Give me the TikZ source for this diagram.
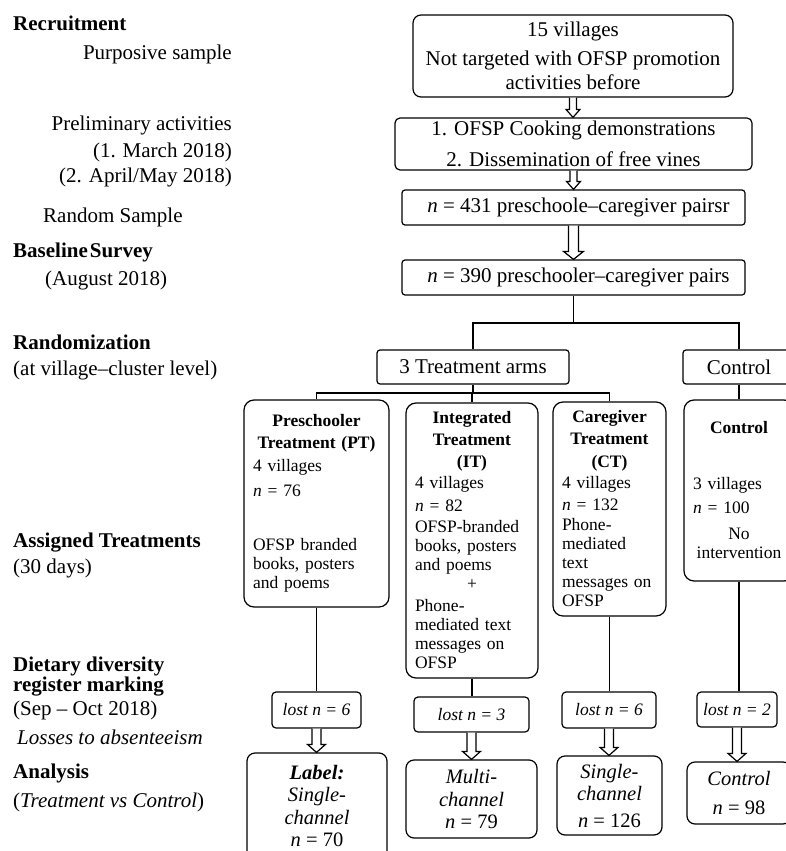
\documentclass[tikz,border=0pt]{standalone}
\usepackage{fontspec}
\setmainfont{Liberation Serif}
\usetikzlibrary{calc}
\setlength{\parskip}{0pt}
\newcommand\bigfont{\fontsize{21}{25}\selectfont}
\newcommand\boxfont{\fontsize{17.5}{19}\selectfont}
\newcommand\groupfont{\fontsize{20.5}{22.5}\selectfont}
% hollow block arrow from #2 down to #3, #1 = half width of the shaft
\newcommand\blockarrow[3][4.5]{%
  \draw[hollow] let \p1=(#2), \p2=(#3) in
    (\x1-#1pt,\y1) -- (\x1-#1pt,\y2+8pt) -- (\x1-2*#1pt,\y2+8pt) -- (\x1,\y2)
    -- (\x1+2*#1pt,\y2+8pt) -- (\x1+#1pt,\y2+8pt) -- (\x1+#1pt,\y1);}

\begin{document}
\begin{tikzpicture}[x=1pt, y=-1pt,
    line/.style={line width=1.3pt},
    hollow/.style={line width=1.2pt, fill=white, line join=miter},
    flowbox/.style={draw, line width=1.2pt, rounded corners=3pt, inner sep=0pt,
                    align=center, font=\bigfont},
    armbox/.style={draw, line width=1.2pt, rounded corners=10pt, inner xsep=9pt,
                   inner ysep=0pt, align=left, font=\boxfont},
    lostbox/.style={draw, line width=1.2pt, rounded corners=4pt, inner sep=0pt,
                    font=\boxfont\itshape},
    endbox/.style={draw, line width=1.2pt, rounded corners=8pt, inner sep=0pt,
                   align=center, font=\groupfont\itshape},
    lbl/.style={inner sep=0pt, font=\bigfont, anchor=west},
    bold/.style={font=\bigfont\bfseries}
  ]
  \useasboundingbox (0,0) rectangle (786,851);
  \clip (0,0) rectangle (786,851);

  % stage labels
  \node[lbl, bold] (recruit) at (13,23) {Recruitment};
  \node[lbl, anchor=east] (purposive) at (232,54) {Purposive sample};
  \node[lbl, anchor=east] (prelim) at (232,125) {Preliminary activities};
  \node[lbl, anchor=east] (march) at (232,152) {(1. March 2018)};
  \node[lbl, anchor=east] (april) at (232,177) {(2. April/May 2018)};
  \node[lbl] (random) at (43,217) {Random Sample};
  \node[lbl, bold] (baseline) at (13,252) {Baseline\hspace{2pt}Survey};
  \node[lbl] (august) at (45,280) {(August 2018)};
  \node[lbl, bold] (randomiz) at (13,342) {Randomization};
  \node[lbl] (cluster) at (13,370) {(at village--cluster level)};
  \node[lbl, bold] (assigned) at (13,543) {Assigned Treatments};
  \node[lbl] (days) at (13,568) {(30 days)};
  \node[lbl, bold, align=left] (dietary) at (13,677) {Dietary diversity\\[-5pt]register marking};
  \node[lbl] (sepoct) at (13,710) {(Sep -- Oct 2018)};
  \node[lbl, font=\bigfont\itshape] (losses) at (17,737) {Losses to absenteeism};
  \node[lbl, bold] (analysis) at (13,773) {Analysis};
  \node[lbl] (tvc) at (13,802) {(\textit{Treatment vs Control})};

  % main flow
  \node[flowbox, rounded corners=8pt, minimum width=320pt, minimum height=82pt] (villages) at (573,56)
    {15 villages\\[4pt]Not targeted with OFSP promotion\\[-1pt]activities before};
  \node[flowbox, rounded corners=5pt, minimum width=357pt, minimum height=52pt] (prelimbox) at (573.5,144)
    {1. OFSP Cooking demonstrations\\[6pt]2. Dissemination of free vines};
  \node[flowbox, minimum width=343pt, minimum height=35pt] (pairs431) at (573.5,207.5)
    {\hspace*{10pt}\textit{n} = 431 preschoole--caregiver pairsr};
  \node[flowbox, minimum width=343pt, minimum height=35pt] (pairs390) at (573.5,277.5)
    {\hspace*{10pt}\textit{n} = 390 preschooler--caregiver pairs};
  \node[flowbox, minimum width=192pt, minimum height=34pt] (arms) at (473,367) {3 Treatment arms};
  \node[flowbox, minimum width=112pt, minimum height=34pt] (ctrlhead) at (739,367) {Control};

  % treatment arms
  \node[armbox, text width=127pt, minimum height=207pt] (pt) at (316.5,503.5)
    {{\centering\bfseries Preschooler\\[3pt]Treatment (PT)\par}\vspace{4pt}
     4 villages\\[6pt]\textit{n} = 76\\[35pt]OFSP branded\\books, posters\\and poems};
  \node[armbox, text width=114pt, minimum height=275pt] (it) at (472,540.5)
    {{\centering\bfseries Integrated\\[3pt]Treatment\\[3pt](IT)\par}\vspace{2pt}
     4 villages\\[4pt]\textit{n} = 82\\[2pt]OFSP-branded\\books, posters\\and poems\\
     \makebox[\linewidth]{+}\\[3pt]Phone-\\mediated text\\messages on\\OFSP};
  \node[armbox, text width=95pt, minimum height=214pt] (ct) at (609.5,509)
    {{\centering\bfseries Caregiver\\[3pt]Treatment\\[4pt](CT)\par}\vspace{2pt}
     4 villages\\[3pt]\textit{n} = 132\\[1pt]Phone-\\mediated\\text\\messages on\\OFSP};
  \node[armbox, text width=92pt, minimum height=181pt] (ctrl) at (739,490.5)
    {{\centering\bfseries Control\par}\vspace{37pt}
     3 villages\\[5pt]\textit{n} = 100\par\vspace{7pt}
     {\centering No\\intervention\par}};

  % losses
  \node[lostbox, minimum width=89pt, minimum height=36pt] (lostpt) at (316.5,710) {lost n = 6};
  \node[lostbox, minimum width=115pt, minimum height=35pt] (lostit) at (471.5,714.5) {lost n = 3};
  \node[lostbox, minimum width=94pt, minimum height=36pt] (lostct) at (609,710) {lost n = 6};
  \node[lostbox, minimum width=80pt, minimum height=35pt] (lostctrl) at (737,709.5) {lost n = 2};

  % analysis groups
  \node[endbox, minimum width=140pt, minimum height=106pt] (endpt) at (317,806)
    {\textbf{Label:}\\Single-\\channel\\\textit{n} \textup{= 70}};
  \node[endbox, minimum width=131pt, minimum height=78pt] (endit) at (471.5,799)
    {Multi-\\channel\\\textit{n} \textup{= 79}};
  \node[endbox, minimum width=105pt, minimum height=79pt] (endct) at (609.5,795.5)
    {Single-\\channel\\[4pt]\textit{n} \textup{= 126}};
  \node[endbox, minimum width=104pt, minimum height=62pt] (endctrl) at (739,793)
    {Control\\[7pt]\textit{n} \textup{= 98}};

  % connectors
  \blockarrow[3.5]{villages.south}{prelimbox.north}
  \blockarrow[3.5]{prelimbox.south}{pairs431.north}
  \blockarrow[5]{pairs431.south}{pairs390.north}
  \coordinate (split1) at (573.5,323);
  \coordinate (split2) at (473,393);
  \draw[line] (pairs390.south) -- (split1);
  \draw[line] (arms.north) |- (split1) -| (ctrlhead.north);
  \draw[line] (arms.south) -- (split2);
  \draw[line] (pt.north) |- (split2) -| (ct.north);
  \draw[line] (it.north) -- (it.north |- split2);
  \draw[line] (ctrlhead.south) -- (ctrl.north);
  \draw[line] (pt.south) -- (pt.south |- lostpt.north);
  \draw[line] (it.south) -- (it.south |- lostit.north);
  \draw[line] (ct.south) -- (ct.south |- lostct.north);
  \draw[line] (ctrl.south) -- (ctrl.south |- lostctrl.north);
  \blockarrow{lostpt.south}{endpt.north}
  \blockarrow{lostit.south}{endit.north}
  \blockarrow{lostct.south}{endct.north}
  \blockarrow{lostctrl.south}{endctrl.north}
\end{tikzpicture}
\end{document}
